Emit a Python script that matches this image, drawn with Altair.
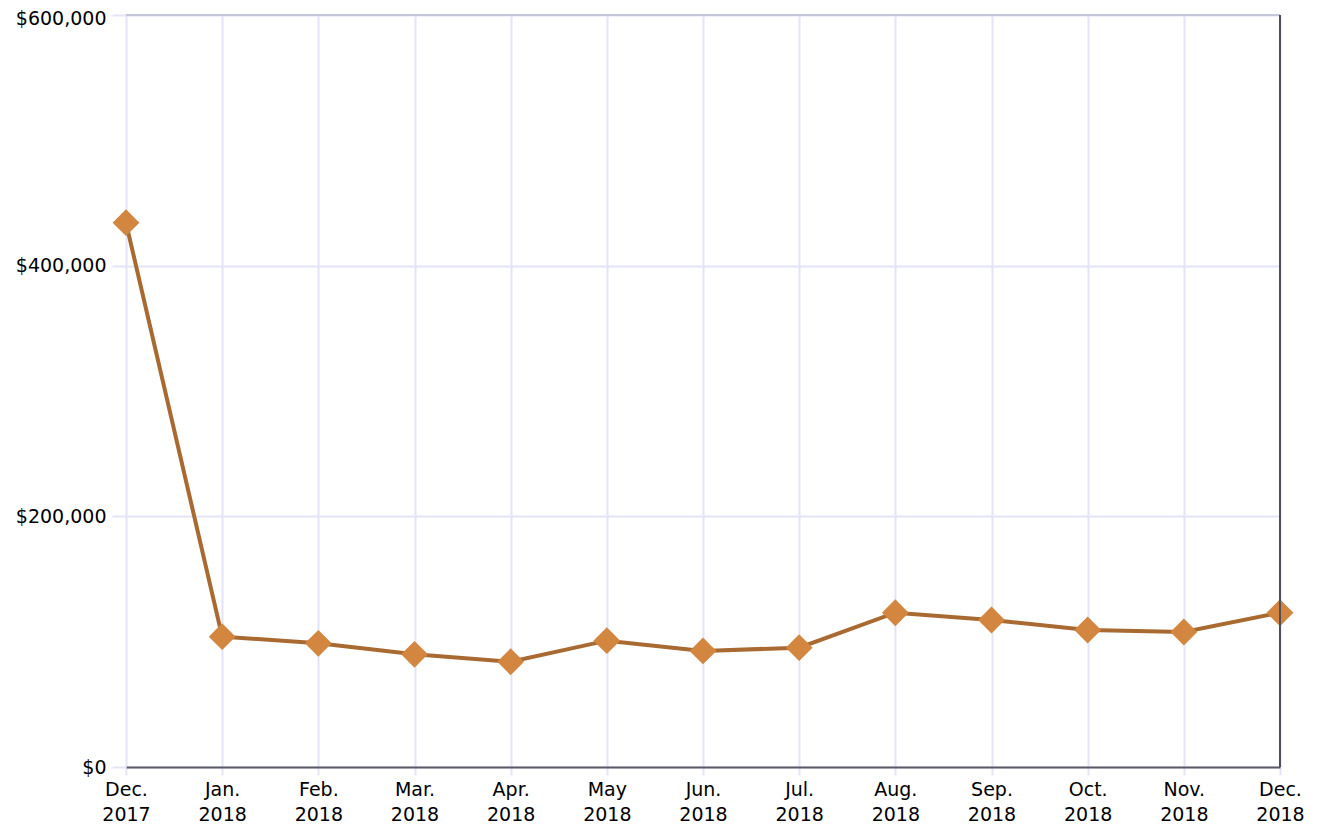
import altair as alt
import pandas as pd

months = ["Dec. 2017", "Jan. 2018", "Feb. 2018", "Mar. 2018", "Apr. 2018", "May 2018",
          "Jun. 2018", "Jul. 2018", "Aug. 2018", "Sep. 2018", "Oct. 2018", "Nov. 2018", "Dec. 2018"]
values = [434300, 104000, 98700, 89900, 84000, 100800, 92600, 95200, 123100, 117300, 109300, 107700, 123100]
y_ticks = [0, 200000, 400000, 600000]

df = pd.DataFrame({"month": months, "value": values})

W, H = 1154, 752
FONT = "Verdana, DejaVu Sans"
GRID = "#E4E4F8"

x_enc = alt.X(
    "month:N", sort=months,
    scale=alt.Scale(type="point", padding=0),
    axis=alt.Axis(
        title=None, labelAngle=0, labelExpr="split(datum.label, ' ')",
        labelFont=FONT, labelFontSize=19, labelColor="#000000", labelLineHeight=25,
        labelPadding=5, tickSize=8, tickColor=GRID, tickWidth=2,
        grid=True, gridColor=GRID, gridWidth=2,
        domain=True, domainColor="#5a5a66", domainWidth=2,
    ),
)
y_enc = alt.Y(
    "value:Q",
    scale=alt.Scale(domain=[0, 600000], nice=False),
    axis=alt.Axis(
        title=None, values=y_ticks, format="$,.0f",
        labelFont=FONT, labelFontSize=19, labelColor="#000000",
        labelPadding=6, labelOffset=alt.ExprRef(expr="datum.value >= 600000 ? 3 : 0"),
        tickSize=14, tickColor=GRID, tickWidth=2,
        grid=True, gridColor=GRID, gridWidth=2, domain=False,
    ),
)

base = alt.Chart(df)
line = base.mark_line(color="#A86A31", strokeWidth=4).encode(x=x_enc, y=y_enc)
pts = base.mark_point(shape="diamond", filled=True, size=720, color="#D2863F", opacity=1).encode(x=x_enc, y=y_enc)

edge = alt.Chart(pd.DataFrame({"a": [0]}))
top_rule = edge.mark_rule(color="#C6C6DA", strokeWidth=2).encode(
    x=alt.value(0), x2=alt.value(W), y=alt.value(0))
right_rule = edge.mark_rule(color="#4e4e5c", strokeWidth=2).encode(
    x=alt.value(W), y=alt.value(0), y2=alt.value(H))

chart = alt.layer(line, pts, top_rule, right_rule).properties(
    width=W, height=H,
    autosize="none",
    padding={"left": 118, "top": 7, "right": 31, "bottom": 58},
).configure_view(stroke=None)

chart.save("out.html", embed_options={"renderer": "svg", "actions": False})
